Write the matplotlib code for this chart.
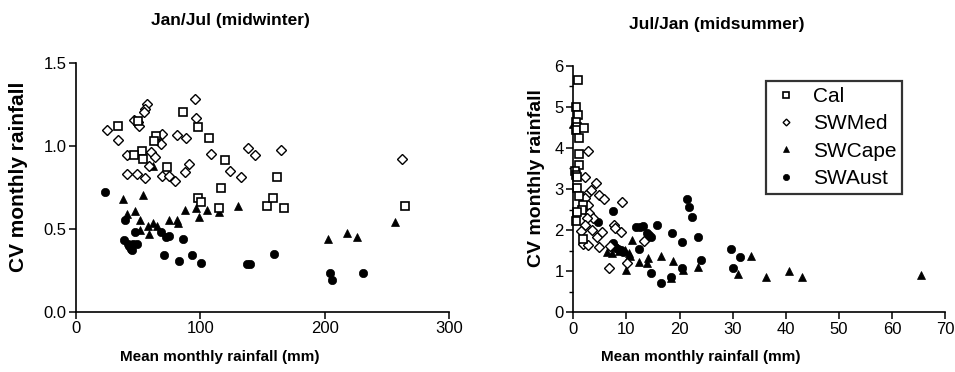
import matplotlib
matplotlib.use("Agg")
import matplotlib.pyplot as plt
from matplotlib.ticker import MultipleLocator, FormatStrFormatter

plt.rcParams['font.family'] = ['Liberation Sans', 'DejaVu Sans']

# ---------------- Data: midwinter (Jan/Jul) ----------------
cal_w_x = [34, 50, 86, 98.3, 107, 64.3, 62.7, 53, 47, 53.6, 73.4, 120, 116.5, 161.5,
           98.5, 100.7, 115.3, 153.3, 158.6, 167, 264.7]
cal_w_y = [1.12, 1.147, 1.205, 1.115, 1.048, 1.058, 1.03, 0.966, 0.946, 0.918, 0.87,
           0.914, 0.745, 0.813, 0.687, 0.661, 0.627, 0.639, 0.683, 0.625, 0.637]

med_w_x = [25.3, 33.7, 41, 41.1, 48.9, 55.3, 57.4, 55.8, 54.9, 50, 51, 60.6, 63.4, 58.8,
           69, 68, 69, 75, 79.3, 81.1, 88.2, 88, 90.8, 95.4, 96.3, 108.3, 123.8, 132.4,
           138.3, 144, 164.8, 261.8, 46.6]
med_w_y = [1.093, 1.036, 0.944, 0.831, 0.832, 0.806, 1.253, 1.223, 1.201, 1.145, 1.12,
           0.964, 0.934, 0.879, 1.069, 1.012, 0.817, 0.817, 0.787, 1.063, 1.045, 0.84,
           0.89, 1.28, 1.166, 0.948, 0.85, 0.811, 0.988, 0.942, 0.976, 0.918, 1.153]

cape_w_x = [37.5, 53.6, 41.4, 47.4, 51.8, 51.6, 57.6, 58.9, 61.8, 64.9, 62, 74.4, 81, 82,
            87.9, 96.4, 98.6, 105.3, 114.7, 130, 202.6, 217.6, 226.4, 256.4]
cape_w_y = [0.68, 0.705, 0.59, 0.605, 0.555, 0.494, 0.517, 0.47, 0.536, 0.516, 0.88,
            0.55, 0.552, 0.536, 0.61, 0.625, 0.568, 0.61, 0.6, 0.635, 0.436, 0.476,
            0.452, 0.54]

aust_w_x = [23.3, 39.4, 38.7, 41.6, 42.5, 44.2, 44.8, 46, 48.8, 47.4, 68.6, 72.3, 74.8,
            86.3, 71, 82.8, 93.5, 100.8, 137.2, 139.9, 159.4, 204.2, 206.3, 231]
aust_w_y = [0.721, 0.552, 0.432, 0.41, 0.395, 0.38, 0.37, 0.41, 0.405, 0.482, 0.482,
            0.448, 0.455, 0.437, 0.344, 0.307, 0.343, 0.291, 0.285, 0.289, 0.347,
            0.235, 0.191, 0.231]

# ---------------- Data: midsummer (Jul/Jan) ----------------
cal_s_x = [0.95, 0.55, 0.95, 0.45, 0.75, 0.5, 2.05, 1.1, 1.1, 1.1, 0.35, 0.5, 0.75, 0.63,
           1.13, 1.77, 1.7, 0.75, 0.55, 1.85]
cal_s_y = [5.64, 5.0, 4.8, 4.64, 4.52, 4.44, 4.49, 4.23, 3.84, 3.59, 3.43, 3.34, 3.3,
           3.02, 2.83, 2.6, 2.5, 2.45, 2.22, 1.79]

med_s_x = [2.7, 2.15, 4.35, 3.4, 2.4, 4.8, 5.7, 9.15, 2.7, 3.0, 3.8, 2.5, 2.2, 3.45, 4.4,
           5.35, 7.6, 7.8, 9.0, 1.4, 1.9, 2.8, 4.9, 6.8, 10.2, 13.3, 2.2, 7.0]
med_s_y = [3.93, 3.3, 3.14, 2.98, 2.85, 2.86, 2.76, 2.69, 2.6, 2.41, 2.29, 2.29, 2.12,
           2.0, 1.84, 1.96, 2.12, 2.04, 1.95, 1.99, 1.65, 1.64, 1.59, 1.09, 1.21, 1.74,
           2.79, 1.62]

cape_s_x = [0.0, 11.0, 6.3, 7.2, 8.5, 8.6, 9.8, 10.4, 10.7, 9.95, 10.2, 12.4, 13.8, 14.1,
            16.5, 18.7, 18.4, 20.6, 23.5, 31.0, 33.4, 36.2, 40.6, 43.1, 65.5]
cape_s_y = [4.58, 1.76, 1.46, 1.44, 1.56, 1.48, 1.52, 1.44, 1.36, 1.02, 1.28, 1.22, 1.19,
            1.31, 1.36, 1.24, 0.84, 1.04, 1.1, 0.94, 1.36, 0.87, 1.01, 0.85, 0.9]

aust_s_x = [7.4, 4.7, 7.4, 7.9, 8.4, 9.0, 9.4, 11.8, 12.5, 13.1, 15.7, 13.9, 14.3, 14.7,
            12.4, 14.6, 16.5, 18.5, 18.4, 20.4, 20.5, 21.4, 21.7, 22.3, 23.5, 24.1,
            29.7, 31.4, 30.0]
aust_s_y = [2.47, 2.19, 1.68, 1.6, 1.55, 1.52, 1.47, 2.07, 2.08, 2.09, 2.13, 1.93, 1.88,
            1.84, 1.53, 0.95, 0.72, 1.93, 0.86, 1.71, 1.09, 2.75, 2.55, 2.33, 1.83, 1.27,
            1.55, 1.35, 1.07]

series_names = ["Cal", "SWMed", "SWCape", "SWAust"]

W, H = 955, 372
fig = plt.figure(figsize=(W / 100, H / 100), dpi=100)

def px_axes(x0, x1, ytop, ybot):
    return fig.add_axes([x0 / W, 1 - ybot / H, (x1 - x0) / W, (ybot - ytop) / H])

axL = px_axes(76, 449, 62.7, 311.7)
axR = px_axes(573.3, 945, 65.7, 312.3)

styles = {
    "Cal": dict(marker="s", ms=5.6, mfc="white", mec="black", mew=1.2),
    "SWMed": dict(marker="D", ms=4.6, mfc="white", mec="black", mew=1.0),
    "SWCape": dict(marker="^", ms=6.2, mfc="black", mec="black", mew=0.5),
    "SWAust": dict(marker="o", ms=6.0, mfc="black", mec="black", mew=0.5),
}

def draw(ax, data):
    handles = {}
    for name in ["SWAust", "SWCape", "SWMed", "Cal"]:
        xs, ys = data[name]
        h, = ax.plot(xs, ys, ls="none", clip_on=False, **styles[name])
        handles[name] = h
    for s in ["top", "right"]:
        ax.spines[s].set_visible(False)
    for s in ["left", "bottom"]:
        ax.spines[s].set_linewidth(1.2)
    ax.tick_params(which="major", direction="out", length=5, width=1.1, labelsize=12,
                   pad=2)
    ax.tick_params(which="minor", direction="out", length=3, width=1.0)
    return handles

draw(axL, {"Cal": (cal_w_x, cal_w_y), "SWMed": (med_w_x, med_w_y),
           "SWCape": (cape_w_x, cape_w_y), "SWAust": (aust_w_x, aust_w_y)})
axL.set_xlim(0, 300)
axL.set_ylim(0, 1.5)
axL.xaxis.set_major_locator(MultipleLocator(100))
axL.yaxis.set_major_locator(MultipleLocator(0.5))
axL.yaxis.set_major_formatter(FormatStrFormatter("%.1f"))

hR = draw(axR, {"Cal": (cal_s_x, cal_s_y), "SWMed": (med_s_x, med_s_y),
                "SWCape": (cape_s_x, cape_s_y), "SWAust": (aust_s_x, aust_s_y)})
axR.set_xlim(0, 70)
axR.set_ylim(0, 6)
axR.xaxis.set_major_locator(MultipleLocator(10))
axR.yaxis.set_major_locator(MultipleLocator(1))
axR.yaxis.set_minor_locator(MultipleLocator(0.5))

for ax, xlc, ylc, ysz in [(axL, (0.386, -0.182), (-0.153, 0.541), 15),
                          (axR, (0.344, -0.181), (-0.100, 0.545), 14)]:
    ax.set_xlabel("Mean monthly rainfall (mm)", fontsize=11, fontweight="bold", va="center")
    ax.set_ylabel("CV monthly rainfall", fontsize=ysz, fontweight="bold", va="center")
    ax.xaxis.set_label_coords(*xlc)
    ax.yaxis.set_label_coords(*ylc)

fig.text(230.5 / W, 1 - 20 / H, "Jan/Jul (midwinter)", fontsize=12.5, fontweight="bold",
         ha="center", va="center")
fig.text(717 / W, 1 - 25 / H, "Jul/Jan (midsummer)", fontsize=12.5, fontweight="bold",
         ha="center", va="center")

leg = axR.legend([hR[n] for n in series_names], series_names, loc="upper left",
                 bbox_to_anchor=(0.518, 0.939), fontsize=15, frameon=True,
                 fancybox=False, borderpad=0.3, labelspacing=0.4, handlelength=1.3,
                 handletextpad=0.65, borderaxespad=0, markerscale=0.75)
leg.get_frame().set_edgecolor("black")
leg.get_frame().set_linewidth(1.6)

fig.savefig("out.png", dpi=100)
